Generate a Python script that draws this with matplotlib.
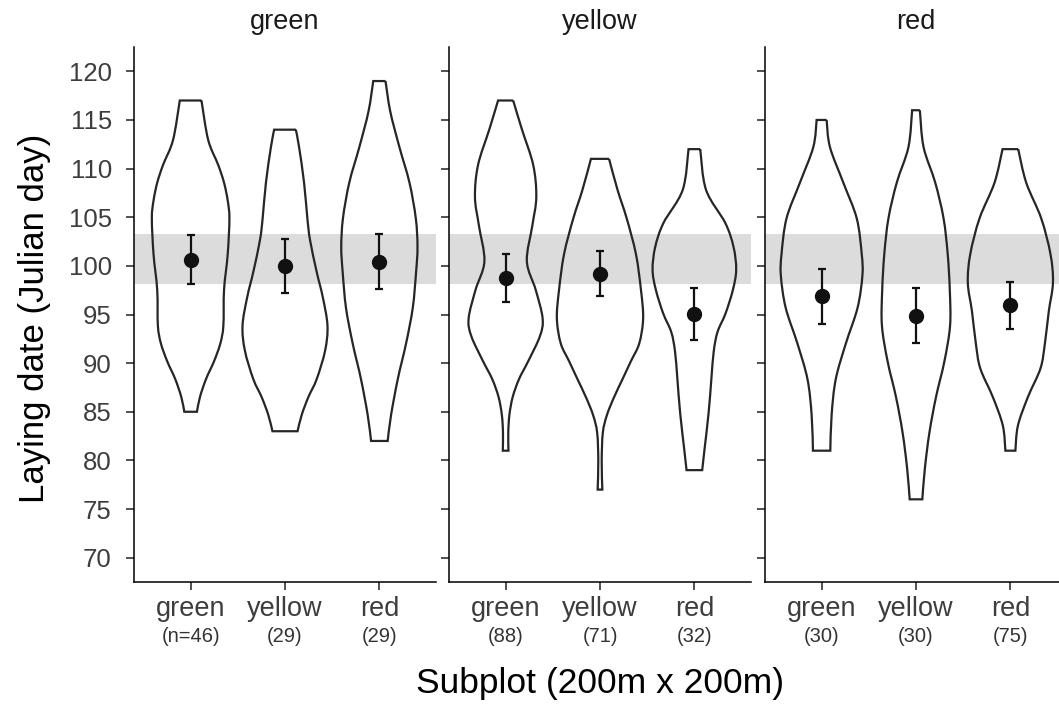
import numpy as np
import matplotlib
matplotlib.use("Agg")
import matplotlib.pyplot as plt
from matplotlib.path import Path
from matplotlib.patches import PathPatch
from matplotlib.transforms import blended_transform_factory

plt.rcParams['font.family'] = ['Liberation Sans', 'DejaVu Sans']

# ---------------- data ----------------
panels = ["green", "yellow", "red"]
groups = ["green", "yellow", "red"]

n_green = ["(n=46)", "(29)", "(29)"]
n_yellow = ["(88)", "(71)", "(32)"]
n_red = ["(30)", "(30)", "(75)"]

mean_green = [100.65, 100.03, 100.43]
lo_green = [98.10, 97.20, 97.64]
hi_green = [103.15, 102.80, 103.26]

mean_yellow = [98.74, 99.19, 95.04]
lo_yellow = [96.25, 96.87, 92.39]
hi_yellow = [101.17, 101.57, 97.72]

mean_red = [96.87, 94.89, 95.95]
lo_red = [94.05, 92.10, 93.50]
hi_red = [99.70, 97.68, 98.34]

band_lo, band_hi = 98.1, 103.3

# violin outlines: y levels (top -> bottom) and half-widths (x units)
vy_green_green = [117.0, 112.95, 110.38, 108.55, 106.71, 104.88, 101.20, 97.53, 93.86, 92.03, 90.19, 88.36, 86.52, 85.0]
vw_green_green = [0.115, 0.186, 0.292, 0.354, 0.393, 0.411, 0.393, 0.354, 0.347, 0.315, 0.248, 0.163, 0.099, 0.067]
vy_green_yellow = [114.0, 112.22, 108.55, 104.88, 102.67, 99.37, 96.80, 93.86, 91.29, 88.36, 86.52, 84.68, 83.0]
vw_green_yellow = [0.115, 0.149, 0.202, 0.237, 0.265, 0.336, 0.400, 0.450, 0.425, 0.336, 0.248, 0.177, 0.133]
vy_green_red = [119.0, 115.89, 112.22, 108.55, 104.88, 101.94, 99.37, 95.70, 92.03, 88.36, 84.68, 82.0]
vw_green_red = [0.065, 0.115, 0.212, 0.319, 0.386, 0.404, 0.389, 0.354, 0.283, 0.195, 0.124, 0.088]

vy_yellow_green = [117.0, 114.05, 110.38, 107.08, 104.14, 100.47, 97.53, 94.60, 92.76, 90.19, 88.36, 86.52, 84.68, 82.85, 81.0]
vw_yellow_green = [0.080, 0.172, 0.292, 0.325, 0.283, 0.225, 0.319, 0.392, 0.363, 0.239, 0.142, 0.075, 0.040, 0.028, 0.030]
vy_yellow_yellow = [111.0, 107.81, 104.88, 101.20, 97.53, 94.60, 92.03, 90.19, 88.36, 86.52, 84.68, 82.85, 79.91, 77.0]
vw_yellow_yellow = [0.096, 0.186, 0.283, 0.381, 0.434, 0.457, 0.416, 0.327, 0.239, 0.150, 0.074, 0.030, 0.018, 0.025]
vy_yellow_red = [112.0, 107.8, 104.4, 101.94, 99.6, 97.53, 95.1, 93.2, 91.2, 88.36, 84.9, 81.01, 79.0]
vw_yellow_red = [0.062, 0.124, 0.328, 0.415, 0.443, 0.408, 0.330, 0.245, 0.205, 0.180, 0.151, 0.106, 0.083]

vy_red_green = [115.0, 112.22, 108.55, 104.88, 101.20, 99.0, 95.70, 92.03, 88.36, 84.68, 81.0]
vw_red_green = [0.053, 0.088, 0.230, 0.372, 0.425, 0.432, 0.381, 0.257, 0.150, 0.106, 0.092]
vy_red_yellow = [116.0, 112.22, 108.55, 104.88, 101.20, 97.53, 93.86, 90.19, 86.52, 82.85, 79.18, 76.0]
vw_red_yellow = [0.041, 0.080, 0.204, 0.292, 0.336, 0.358, 0.361, 0.301, 0.212, 0.142, 0.094, 0.067]
vy_red_red = [112.0, 108.55, 104.88, 101.20, 98.27, 95.33, 92.03, 89.46, 86.52, 83.58, 81.0]
vw_red_red = [0.083, 0.168, 0.327, 0.425, 0.451, 0.407, 0.366, 0.319, 0.186, 0.080, 0.053]

# ---------------- assemble ----------------
panel_data = {
    "green": dict(n=n_green, m=mean_green, lo=lo_green, hi=hi_green,
                  v=[(vy_green_green, vw_green_green), (vy_green_yellow, vw_green_yellow), (vy_green_red, vw_green_red)]),
    "yellow": dict(n=n_yellow, m=mean_yellow, lo=lo_yellow, hi=hi_yellow,
                   v=[(vy_yellow_green, vw_yellow_green), (vy_yellow_yellow, vw_yellow_yellow), (vy_yellow_red, vw_yellow_red)]),
    "red": dict(n=n_red, m=mean_red, lo=lo_red, hi=hi_red,
                v=[(vy_red_green, vw_red_green), (vy_red_yellow, vw_red_yellow), (vy_red_red, vw_red_red)]),
}


def smooth_side(pts):
    """Catmull-Rom spline through points -> bezier segments (excluding first point)."""
    pts = np.asarray(pts, float)
    n = len(pts)
    verts, codes = [], []
    for i in range(n - 1):
        p0 = pts[max(i - 1, 0)]
        p1 = pts[i]
        p2 = pts[i + 1]
        p3 = pts[min(i + 2, n - 1)]
        c1 = p1 + (p2 - p0) / 6.0
        c2 = p2 - (p3 - p1) / 6.0
        verts += [c1, c2, p2]
        codes += [Path.CURVE4] * 3
    return verts, codes


def violin_path(cx, ys, ws):
    ys = np.asarray(ys, float)
    ws = np.asarray(ws, float)
    right = np.column_stack([cx + ws, ys])          # top -> bottom
    left = np.column_stack([cx - ws, ys])[::-1]     # bottom -> top
    verts = [right[0]]
    codes = [Path.MOVETO]
    v, c = smooth_side(right)
    verts += v; codes += c
    verts.append(left[0]); codes.append(Path.LINETO)
    v, c = smooth_side(left)
    verts += v; codes += c
    verts.append(right[0]); codes.append(Path.LINETO)
    return Path(np.array(verts), codes)


W, H = 1059, 708
fig = plt.figure(figsize=(W / 100, H / 100), dpi=100)

ax_left_px = [134, 449, 765]
ax_w_px = 302
ax_top_px, ax_bot_px = 47, 582

line_col = "#262626"
tick_col = "#3d3d3d"
xpos = [1, 2, 3]

for k, pname in enumerate(panels):
    d = panel_data[pname]
    ax = fig.add_axes([ax_left_px[k] / W, 1 - ax_bot_px / H, ax_w_px / W, (ax_bot_px - ax_top_px) / H])
    ax.set_xlim(0.4, 3.6)
    ax.set_ylim(67.5, 122.5)
    ax.axhspan(band_lo, band_hi, color="#dcdcdc", lw=0, zorder=0)

    for j, (vy, vw) in enumerate(d["v"]):
        p = violin_path(xpos[j], vy, vw)
        ax.add_patch(PathPatch(p, facecolor="none", edgecolor=line_col, lw=1.6, zorder=2))

    m = np.array(d["m"])
    lo = np.array(d["lo"])
    hi = np.array(d["hi"])
    ax.errorbar(xpos, m, yerr=[m - lo, hi - m], fmt="o", color="#111111", ms=10,
                elinewidth=1.6, capsize=3.2, capthick=1.6, zorder=3)

    for s in ["top", "right"]:
        ax.spines[s].set_visible(False)
    for s in ["left", "bottom"]:
        ax.spines[s].set_color("black")
        ax.spines[s].set_linewidth(1.1)

    ax.set_yticks([70, 75, 80, 85, 90, 95, 100, 105, 110, 115, 120])
    ax.set_xticks(xpos)
    ax.set_xticklabels(groups)
    ax.tick_params(axis="both", direction="out", length=6, width=1.1, color="#222222")
    ax.tick_params(axis="x", labelsize=19.5, labelcolor=tick_col, pad=4)
    ax.tick_params(axis="y", labelsize=18.5, labelcolor=tick_col, pad=10)
    if k > 0:
        ax.tick_params(axis="y", labelleft=False)

    trans = blended_transform_factory(ax.transData, fig.transFigure)
    for j, lab in enumerate(d["n"]):
        ax.text(xpos[j], 1 - 637 / H, lab, transform=trans, ha="center", va="center",
                fontsize=14.5, color="#333333")

    cx_px = ax_left_px[k] + ax_w_px / 2
    fig.text(cx_px / W, 1 - 22 / H, pname, ha="center", va="center", fontsize=19.5, color="#1a1a1a")

fig.text(600 / W, 1 - 684 / H, "Subplot (200m x 200m)", ha="center", va="center", fontsize=25.5, color="black")
fig.text(35 / W, 1 - 318 / H, "Laying date (Julian day)", ha="center", va="center", rotation=90,
         fontsize=25, color="black")

fig.savefig("out.png", dpi=100)
